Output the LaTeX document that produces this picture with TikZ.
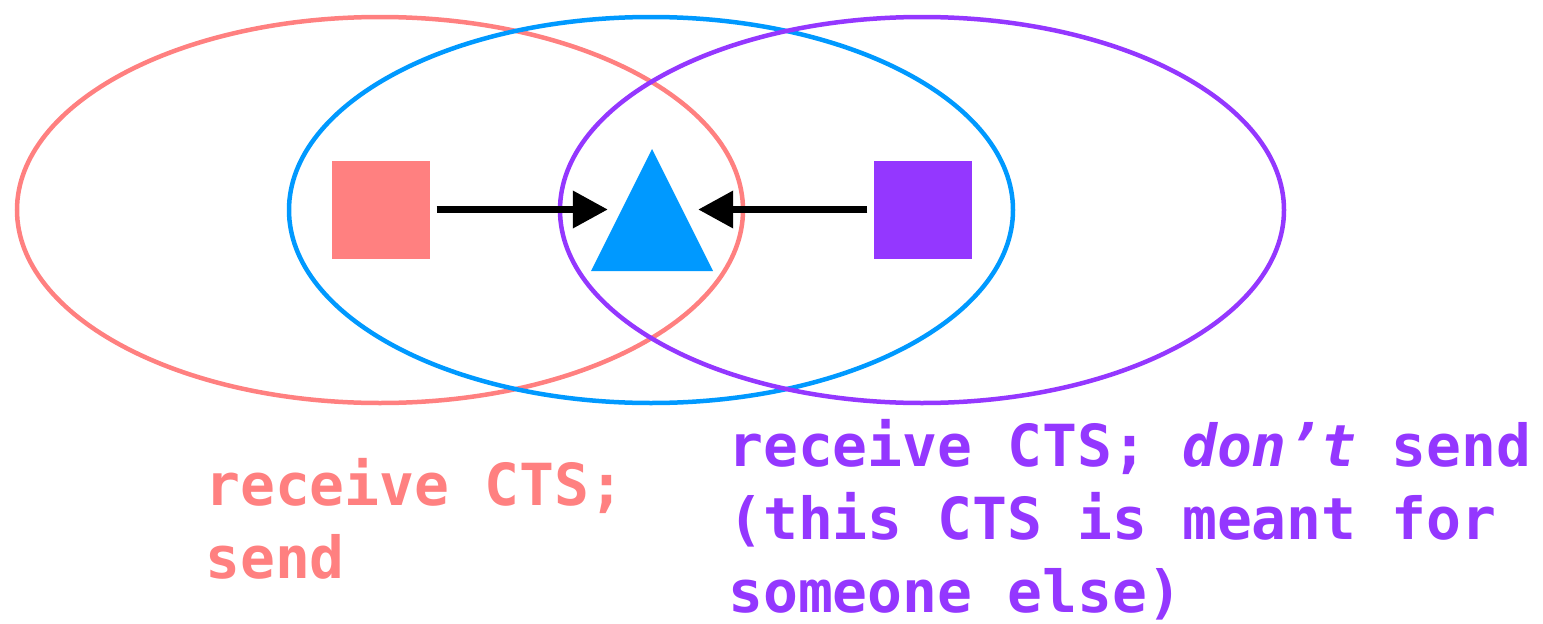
\documentclass[tikz,border=0pt]{standalone}
\usepackage{fontspec}
\setmonofont{DejaVu Sans Mono}
\usetikzlibrary{arrows.meta}
\definecolor{salmonc}{RGB}{255,128,128}
\definecolor{skybluec}{RGB}{0,153,255}
\definecolor{violetc}{RGB}{148,55,255}
\tikzset{
  reach/.style={line width=4.5pt},
  station/.style={minimum size=98pt, inner sep=0pt},
  signal/.style={line width=7pt, -{Triangle[length=35pt,width=36pt]}},
  caption/.style={anchor=base west, align=left, inner sep=0pt,
    font=\ttfamily\bfseries\fontsize{58}{73}\selectfont},
}
\begin{document}
\begin{tikzpicture}[x=1pt, y=-1pt]
\useasboundingbox (0,0) rectangle (1543,624);
% transmission ranges
\draw[reach, salmonc] (380,210) ellipse [x radius=363, y radius=193];
\draw[reach, skybluec] (651,210) ellipse [x radius=362, y radius=193];
\draw[reach, violetc] (922,210) ellipse [x radius=362, y radius=193];
% stations
\node[station, fill=salmonc] (left) at (380.5,209.5) {};
\node[station, fill=violetc] (right) at (922.5,209.5) {};
\node[minimum width=90pt, minimum height=10pt, inner sep=0pt] (recv) at (653,209.5) {};
\fill[skybluec] (652,149) -- (713,271) -- (591,271) -- cycle;
% CTS arrows towards the receiver
\draw[signal, shorten <=7pt] (left.east) -- (recv.west);
\draw[signal, shorten <=6pt] (right.west) -- (recv.east);
% captions (anchored at the baseline of the last line)
\node[caption, text=salmonc] (lcap) at (205,578) {receive CTS;\\send};
\node[caption, text=violetc] (rcap) at (728,612) {receive CTS; \textit{don’t} send\\(this CTS is meant for\\someone else)};
\end{tikzpicture}
\end{document}
